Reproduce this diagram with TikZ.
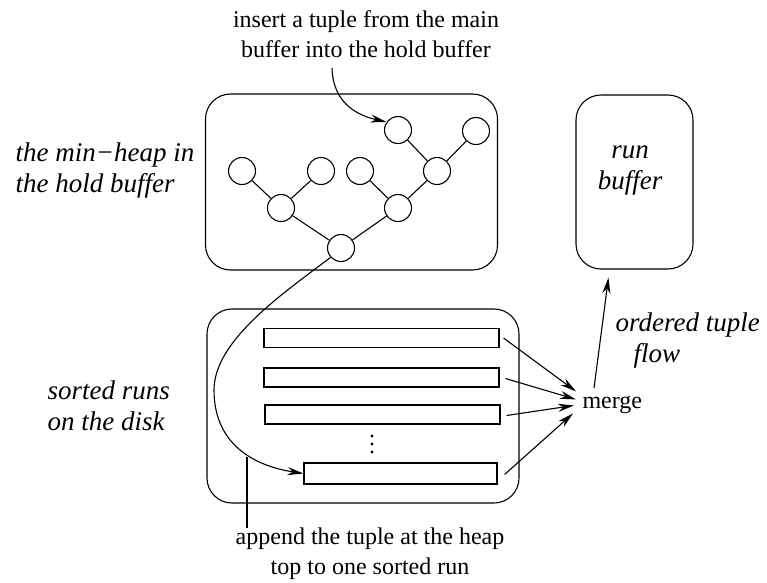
\documentclass[tikz,border=0pt]{standalone}
\usepackage{fontspec}
\setmainfont{Liberation Serif}
\usetikzlibrary{arrows.meta}

\tikzset{
  heapnode/.style={draw, circle, minimum size=27pt, inner sep=0pt},
  runrect/.style={draw, rectangle, minimum height=19pt, inner sep=0pt},
  rbox/.style={draw, rounded corners=25pt, inner sep=0pt},
  txt/.style={font=\fontsize{24}{30}\selectfont, align=center, inner sep=0pt},
  itl/.style={font=\fontsize{27}{31}\selectfont\itshape, inner sep=0pt},
}

\begin{document}
\begin{tikzpicture}[x=1pt, y=-1pt, line width=1.1pt, >={Stealth[length=16pt, width=8pt]}]
  \useasboundingbox (0,0) rectangle (767,582);

  % hold buffer with the heap
  \node[rbox, minimum width=292pt, minimum height=176pt] (hold) at (351.5,182) {};
  \node[heapnode] (root) at (341,248) {};
  \node[heapnode] (pl) at (281,208) {};
  \node[heapnode] (pr) at (398,208) {};
  \node[heapnode] (l1) at (242,171) {};
  \node[heapnode] (l2) at (321,171) {};
  \node[heapnode] (l3) at (360,171) {};
  \node[heapnode] (pm) at (437,171) {};
  \node[heapnode] (t1) at (398,130) {};
  \node[heapnode] (t2) at (476,131) {};
  \draw (l1) -- (pl) (l2) -- (pl) (pl) -- (root);
  \draw (l3) -- (pr) (pm) -- (pr) (pr) -- (root);
  \draw (t1) -- (pm) (t2) -- (pm);

  % run buffer
  \node[rbox, minimum width=117pt, minimum height=174pt] (runbuf) at (634.5,182) {};
  \node[itl, align=center] (runtxt) at (630,171) {run\\buffer};

  % sorted runs on the disk
  \node[rbox, minimum width=312pt, minimum height=194pt] (disk) at (363,406) {};
  \node[runrect, minimum width=235pt] (r1) at (381.5,338) {};
  \node[runrect, minimum width=235pt] (r2) at (381.5,377.5) {};
  \node[runrect, minimum width=235pt] (r3) at (382.5,414.5) {};
  \node[runrect, minimum width=193pt, minimum height=21pt] (r4) at (400.5,473.5) {};
  \fill (372,436) circle (1.7pt) (372,444) circle (1.7pt) (372,452) circle (1.7pt);

  \node[txt, anchor=base west] (merge) at (582,408) {merge};
  \draw[->] ([xshift=4pt]r1.east) -- ([shift={(-6pt,13pt)}]merge.west);
  \draw[->] ([shift={(6pt,-1pt)}]r2.east) -- ([shift={(-6pt,5pt)}]merge.west);
  \draw[->] ([shift={(6pt,-1pt)}]r3.east) -- ([shift={(-8pt,-1pt)}]merge.west);
  \draw[->] ([shift={(7pt,-1pt)}]r4.east) -- ([shift={(-9pt,-9pt)}]merge.west);
  \draw[->] ([shift={(12pt,7pt)}]merge.north west) -- ([shift={(33pt,-8pt)}]runbuf.south west);

  % labels
  \node[txt] (inserttxt) at (366,34) {insert a tuple from the main\\buffer into the hold buffer};
  \node[txt] (appendtxt) at (370,554) {append the tuple at the heap\\top to one sorted run};
  \node[itl, align=left, anchor=west] (heaptxt) at (15,170) {the min−heap in\\the hold buffer};
  \node[itl, align=left, anchor=west] (disktxt) at (47,406) {sorted runs\\on the disk};
  \node[itl, align=left, anchor=west] (flowtxt) at (615,340) {ordered tuple\\\hspace*{18pt}flow};

  % insert and append paths
  \coordinate (ins) at (332,68);
  \draw[->] (ins) .. controls (333,105) and (360,116) .. (t1.145);
  \draw[->] (root.222) .. controls (285,292) and (214,340) .. (214,390)
    .. controls (214,445) and (255,466) .. (r4.west);
  \coordinate (ptr) at (247,457);
  \draw (ptr) -- (ptr |- appendtxt.north);
\end{tikzpicture}
\end{document}
